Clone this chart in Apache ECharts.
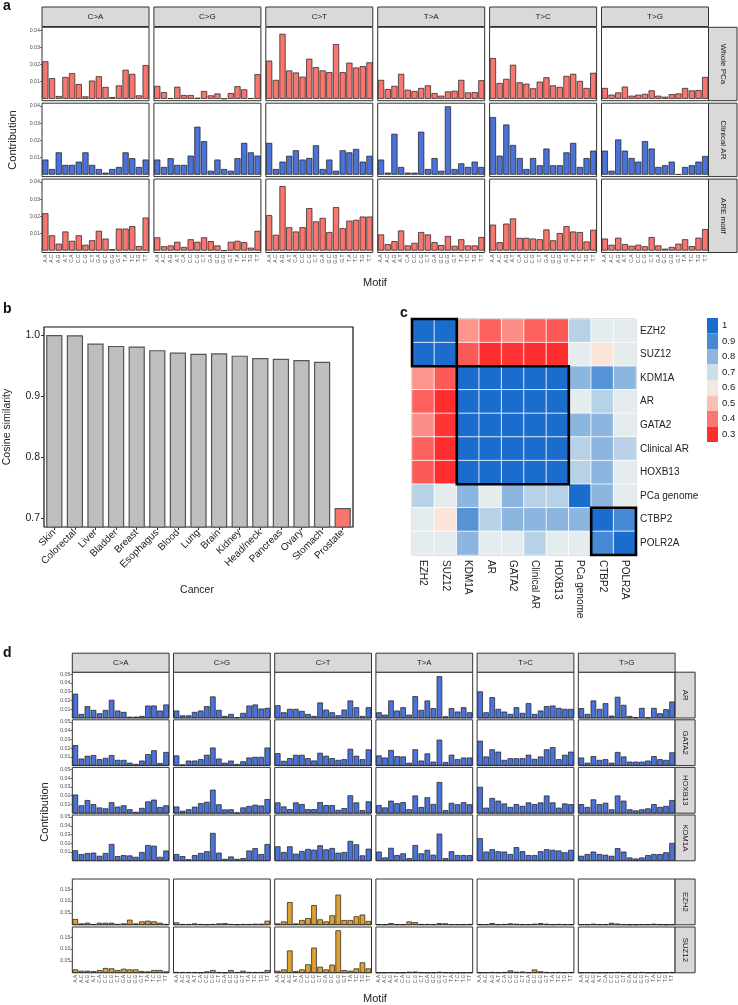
<!DOCTYPE html>
<html><head><meta charset="utf-8">
<script src="https://cdn.jsdelivr.net/npm/echarts@6/dist/echarts.min.js"></script>
<style>html,body{margin:0;padding:0;background:#fff}#c{width:738px;height:1005px}</style>
</head><body><div id="c"></div>
<script>
// ---------------- DATA ----------------
const MOTIFS = ['A.A','A.C','A.G','A.T','C.A','C.C','C.G','C.T','G.A','G.C','G.G','G.T','T.A','T.C','T.G','T.T'];
const SUBS = ['C>A','C>G','C>T','T>A','T>C','T>G'];

// panel a
const A_ROWS = ['Whole PCa','Clinical AR','ARE motif'];
const a_wholePCa = [
 [0.0218,0.012,0.0016,0.0127,0.0149,0.0086,0.0014,0.0106,0.0131,0.0069,0.001,0.0078,0.0169,0.0145,0.002,0.0196],
 [0.0075,0.0039,0.0004,0.007,0.0022,0.0022,0.0006,0.0045,0.002,0.0031,0.0001,0.0033,0.0073,0.0055,0.0004,0.0143],
 [0.0222,0.011,0.0378,0.0165,0.0153,0.0129,0.0233,0.0184,0.0165,0.0155,0.0318,0.0155,0.021,0.0182,0.019,0.0212],
 [0.011,0.0057,0.0075,0.0145,0.0053,0.0045,0.0063,0.0078,0.0033,0.0018,0.0043,0.0047,0.011,0.0037,0.0039,0.0108],
 [0.0237,0.0092,0.0116,0.0198,0.0096,0.0088,0.0061,0.01,0.0125,0.0078,0.0069,0.0133,0.0145,0.0104,0.0063,0.0151],
 [0.0063,0.0024,0.0037,0.0071,0.0018,0.0024,0.0029,0.0049,0.0018,0.0012,0.0027,0.0031,0.0063,0.0049,0.0051,0.0127]
];
const a_clinicalAR = [
 [0.0088,0.0033,0.013,0.0057,0.0057,0.0076,0.013,0.0057,0.0033,0.0012,0.0033,0.0045,0.013,0.0096,0.0045,0.0088],
 [0.0088,0.0045,0.0096,0.0057,0.0057,0.0111,0.0279,0.0195,0.0023,0.0088,0.0033,0.0023,0.0096,0.0185,0.013,0.0111],
 [0.0185,0.0033,0.0076,0.011,0.0142,0.0088,0.0097,0.0171,0.0033,0.0088,0.0023,0.0142,0.013,0.015,0.0076,0.011],
 [0.0088,0.0012,0.0238,0.0045,0.0012,0.0012,0.025,0.0033,0.0097,0.0023,0.0398,0.0033,0.0066,0.0045,0.0076,0.0045],
 [0.0335,0.0111,0.0292,0.0173,0.0097,0.0033,0.0097,0.0055,0.0152,0.0055,0.0055,0.013,0.0185,0.0045,0.0097,0.014],
 [0.014,0.0023,0.0205,0.014,0.0097,0.0076,0.0195,0.0152,0.0045,0.0055,0.0076,0.0003,0.0045,0.0055,0.0076,0.0109]
];
const a_AREmotif = [
 [0.0217,0.0089,0.004,0.0111,0.0057,0.0089,0.0034,0.006,0.0115,0.007,0.0008,0.0128,0.0128,0.0142,0.0026,0.0192],
 [0.0077,0.0025,0.003,0.0051,0.0021,0.0066,0.0051,0.0077,0.0055,0.003,0,0.0051,0.0057,0.0049,0.0017,0.0115],
 [0.0206,0.0092,0.0375,0.0136,0.0111,0.0136,0.0247,0.017,0.019,0.0108,0.0253,0.013,0.0174,0.0179,0.0198,0.0198],
 [0.0094,0.0038,0.0055,0.0117,0.003,0.0045,0.0108,0.0094,0.0049,0.0032,0.0085,0.0028,0.0066,0.003,0.003,0.0079],
 [0.0151,0.0049,0.0157,0.0187,0.0074,0.0074,0.007,0.0066,0.0123,0.006,0.0102,0.0142,0.0111,0.0108,0.0053,0.0121],
 [0.007,0.0034,0.0075,0.0038,0.0028,0.0034,0.0025,0.0079,0.003,0.0011,0.0021,0.004,0.0066,0.0026,0.0075,0.0125]
];
const A_YTICKS = [0.01,0.02,0.03,0.04];

// panel b
const B_CANCERS = ['Skin','Colorectal','Liver','Bladder','Breast','Esophagus','Blood','Lung','Brain','Kidney','Head/neck','Pancreas','Ovary','Stomach','Prostate'];
const B_SIM = [1.0,0.9995,0.986,0.982,0.981,0.975,0.971,0.969,0.970,0.966,0.962,0.961,0.959,0.956,0.716];
const B_YTICKS = [0.7,0.8,0.9,1.0];

// panel c
const C_LABELS = ['EZH2','SUZ12','KDM1A','AR','GATA2','Clinical AR','HOXB13','PCa genome','CTBP2','POLR2A'];
const C_MATRIX = [
 [1.00,1.00,0.44,0.37,0.43,0.37,0.36,0.74,0.65,0.65],
 [1.00,1.00,0.36,0.30,0.31,0.30,0.30,0.65,0.57,0.65],
 [0.44,0.36,1.00,1.00,1.00,1.00,1.00,0.80,0.88,0.80],
 [0.37,0.30,1.00,1.00,1.00,1.00,1.00,0.65,0.74,0.65],
 [0.43,0.31,1.00,1.00,1.00,1.00,1.00,0.80,0.80,0.65],
 [0.37,0.30,1.00,1.00,1.00,1.00,1.00,0.74,0.80,0.74],
 [0.36,0.30,1.00,1.00,1.00,1.00,1.00,0.74,0.80,0.65],
 [0.74,0.65,0.80,0.65,0.80,0.74,0.74,1.00,0.80,0.65],
 [0.65,0.57,0.88,0.74,0.80,0.80,0.80,0.80,1.00,0.90],
 [0.65,0.65,0.80,0.65,0.65,0.74,0.65,0.65,0.90,1.00]
];
const C_BLOCKS = [['EZH2','SUZ12'],['KDM1A','HOXB13'],['CTBP2','POLR2A']];
const C_LEGEND = [1,0.9,0.8,0.7,0.6,0.5,0.4,0.3];

// panel d
const D_ROWS = ['AR','GATA2','HOXB13','KDM1A','EZH2','SUZ12'];
const d_AR = [
 [0.0277,0.0046,0.0135,0.0092,0.0054,0.0092,0.0208,0.0085,0.0069,0.0015,0.0015,0.0023,0.0142,0.0142,0.0085,0.0154],
 [0.0085,0.003,0.003,0.0069,0.0085,0.0135,0.0246,0.0092,0.0023,0.0046,0.0008,0.0058,0.0142,0.0154,0.0108,0.0115],
 [0.0146,0.0065,0.0104,0.0104,0.0081,0.0046,0.0023,0.0177,0.0096,0.0065,0.0031,0.0096,0.02,0.0123,0.0023,0.0123],
 [0.0065,0.0038,0.02,0.0085,0.0123,0.0038,0.025,0.0092,0.02,0.0112,0.0477,0.0019,0.0112,0.0073,0.0123,0.0065],
 [0.0304,0.0065,0.0238,0.0104,0.0073,0.0046,0.0123,0.0058,0.0169,0.0046,0.0085,0.0135,0.0142,0.0115,0.0104,0.0104],
 [0.0112,0.0046,0.02,0.0104,0.0169,0.0027,0.0242,0.015,0.0023,0.0008,0.0115,0.0008,0.0115,0.0054,0.01,0.0188]
];
const d_GATA2 = [
 [0.0233,0.008,0.0112,0.012,0.0073,0.0088,0.012,0.0065,0.0065,0.0033,0.0018,0.0057,0.0131,0.0175,0.0029,0.0155],
 [0.0116,0.0014,0.0057,0.0057,0.0073,0.0124,0.0206,0.008,0.0033,0.0057,0.0018,0.0049,0.0092,0.01,0.01,0.0206],
 [0.0142,0.0054,0.0085,0.0123,0.0123,0.0085,0.0058,0.0146,0.0112,0.0085,0.0065,0.0073,0.0192,0.0112,0.0073,0.0185],
 [0.0116,0.0092,0.0178,0.0108,0.0104,0.0033,0.0186,0.0057,0.0139,0.0045,0.0296,0.0041,0.0124,0.0073,0.0092,0.0092],
 [0.0284,0.0104,0.0186,0.0159,0.0065,0.0084,0.0084,0.0084,0.0124,0.0076,0.0104,0.0186,0.021,0.0073,0.0124,0.0159],
 [0.0092,0.0033,0.0108,0.0065,0.0073,0.0033,0.0155,0.0104,0.0045,0.0045,0.0045,0.0057,0.0108,0.0073,0.0065,0.0151]
];
const d_HOXB13 = [
 [0.0213,0.009,0.015,0.0103,0.0065,0.0055,0.0125,0.0075,0.009,0.0045,0.0015,0.006,0.0135,0.0155,0.007,0.009],
 [0.0076,0.0027,0.0045,0.0074,0.0114,0.013,0.0269,0.0101,0.0043,0.0045,0.0006,0.0066,0.0082,0.0097,0.0088,0.0161],
 [0.0123,0.0077,0.0046,0.0123,0.0104,0.0046,0.0046,0.0127,0.0092,0.0092,0.0038,0.0058,0.0204,0.0123,0.0035,0.0135],
 [0.0092,0.0066,0.0143,0.0114,0.0126,0.0045,0.0202,0.007,0.0182,0.0106,0.0356,0.0035,0.0118,0.0102,0.0125,0.0102],
 [0.0301,0.0063,0.0174,0.0143,0.0111,0.0071,0.0103,0.0083,0.0123,0.0103,0.0123,0.0202,0.0123,0.0063,0.0111,0.0103],
 [0.0103,0.0071,0.0158,0.0103,0.0119,0.0044,0.0202,0.0143,0.0044,0.0032,0.0044,0.0055,0.0103,0.0071,0.0083,0.015]
];
const d_KDM1A = [
 [0.012,0.0077,0.0089,0.0093,0.0057,0.0089,0.0192,0.0053,0.0065,0.0061,0.0045,0.01,0.018,0.0172,0.0045,0.0117],
 [0.0077,0.0053,0.0018,0.0065,0.0089,0.0109,0.0318,0.0093,0.0022,0.0049,0.0022,0.003,0.0117,0.0144,0.0077,0.0192],
 [0.0165,0.01,0.0165,0.0081,0.0112,0.0135,0.0127,0.0177,0.0131,0.0146,0.0092,0.01,0.0227,0.0188,0.0062,0.0138],
 [0.0105,0.0038,0.0148,0.0065,0.0085,0.003,0.018,0.0085,0.0125,0.0069,0.031,0.003,0.0109,0.0065,0.0065,0.0065],
 [0.0259,0.0105,0.0132,0.0109,0.0105,0.0077,0.0156,0.0109,0.0065,0.0065,0.0109,0.0132,0.0125,0.0117,0.0097,0.0125],
 [0.0057,0.0077,0.0105,0.0077,0.0069,0.0057,0.0144,0.0105,0.0038,0.0026,0.0038,0.0065,0.0077,0.0077,0.0097,0.0204]
];
const d_EZH2 = [
 [0.0243,0.0057,0.0086,0.003,0.0086,0.0086,0.0086,0.003,0.0057,0.0214,0.0057,0.0143,0.0171,0.0143,0.0086,0.003],
 [0.01,0.003,0.003,0.0057,0.003,0.0015,0.003,0.0057,0.007,0.003,0.0015,0.003,0.003,0.0043,0.0043,0.0171],
 [0.0057,0.0143,0.0957,0.0057,0.02,0.0286,0.0829,0.0229,0.0143,0.04,0.127,0.02,0.02,0.0357,0.043,0.016],
 [0.002,0.0015,0.007,0.002,0.0015,0.014,0.011,0.003,0.003,0.002,0.007,0.006,0.002,0.002,0.002,0.003],
 [0.002,0.002,0.007,0.002,0.003,0.006,0.004,0.002,0.002,0.004,0.007,0.004,0.002,0.003,0.002,0.002],
 [0.002,0.002,0.004,0.002,0.002,0.008,0.005,0.002,0.001,0.001,0.002,0.002,0.004,0.002,0.001,0.002]
];
const d_SUZ12 = [
 [0.0143,0.0086,0.0086,0.0071,0.0114,0.02,0.0186,0.0114,0.0171,0.0143,0.0143,0.0071,0.0057,0.0114,0.0114,0.0057],
 [0.003,0.003,0.003,0.003,0.001,0.0057,0.0114,0.003,0.001,0.0114,0.003,0.0086,0.003,0.003,0.003,0.0114],
 [0.0086,0.0143,0.094,0.0071,0.0143,0.0357,0.106,0.0257,0.0143,0.0343,0.179,0.0114,0.0086,0.0186,0.044,0.0186],
 [0.001,0.001,0.002,0.001,0.001,0.004,0.005,0.002,0.001,0.001,0.004,0.002,0.001,0.001,0.001,0.002],
 [0.001,0.002,0.003,0.002,0.003,0.01,0.004,0.005,0.002,0.014,0.006,0.003,0.002,0.003,0.002,0.003],
 [0.001,0.002,0.001,0.001,0.001,0.002,0.003,0.001,0.001,0.001,0.003,0.001,0.001,0.001,0.002,0.003]
];
const D_YTICKS_BLUE = [0.01,0.02,0.03,0.04,0.05];
const D_YTICKS_ORANGE = [0.05,0.10,0.15];

// ---------------- STYLE / LAYOUT ----------------
const FONT = 'Liberation Sans, Arial, Helvetica, sans-serif';
const RED = '#f8766d', BLUE = '#4a72d9', ORANGE = '#dea12f';
const STRIP_FILL = '#d9d9d9', BORDER = '#333';

const grid = [], xAxis = [], yAxis = [], series = [], graphic = [], visualMap = [];

function txt(x, y, text, size, opts) {
  opts = opts || {};
  graphic.push({type:'text', x:x, y:y, rotation: opts.rot || 0, z: 10,
    style:{text:text, fontSize:size, fontFamily:FONT, fill: opts.color || '#111',
      fontWeight: opts.bold ? 'bold' : 'normal', align: opts.align || 'center', verticalAlign: opts.valign || 'middle'}});
}
function rect(x, y, w, h) {
  graphic.push({type:'rect', z: 9, shape:{x:x, y:y, width:w, height:h},
    style:{fill:STRIP_FILL, stroke:BORDER, lineWidth:1}});
}

function facet(spec) {
  const nR = spec.rows.length;
  for (let c = 0; c < 6; c++) {
    const left = spec.left0 + c * spec.colStep;
    rect(left, spec.stripTop, spec.colW, spec.stripH);
    txt(left + spec.colW / 2, spec.stripTop + spec.stripH / 2 + 0.5, SUBS[c], spec.stripFont, {color:'#1a1a1a'});
  }
  for (let r = 0; r < nR; r++) {
    const top = spec.rowTops[r];
    const rx = spec.left0 + 5 * spec.colStep + spec.colW;
    rect(rx, top, spec.rightW, spec.rowH);
    txt(rx + spec.rightW / 2, top + spec.rowH / 2, spec.rows[r], spec.stripFont, {rot:-Math.PI/2, color:'#1a1a1a'});
    for (let c = 0; c < 6; c++) {
      const gi = grid.length;
      const isBottom = spec.bottomRows.indexOf(r) >= 0;
      grid.push({left: spec.left0 + c * spec.colStep, top: top, width: spec.colW, height: spec.rowH,
        show:true, borderColor:BORDER, borderWidth:1, backgroundColor:'#fff'});
      xAxis.push({gridIndex:gi, type:'category', data:MOTIFS,
        axisLine:{show:false}, axisTick:{show:false},
        axisLabel:{show:isBottom, rotate:90, interval:0, fontSize:spec.xFont, margin:2, color:'#4d4d4d', fontFamily:FONT}});
      const ticks = spec.ticks[r];
      yAxis.push({gridIndex:gi, type:'value', min:spec.ymin, max:spec.ymax[r],
        splitLine:{show:false}, axisLine:{show:false},
        axisTick:{show:c===0, length:2, customValues:ticks, lineStyle:{color:'#333', width:0.7}},
        axisLabel:{show:c===0, customValues:ticks, fontSize:spec.yFont, margin:2, color:'#4d4d4d', fontFamily:FONT,
          formatter: v => spec.fmt(v)}});
      series.push({type:'bar', xAxisIndex:gi, yAxisIndex:gi, data: spec.data[r][c], silent:true,
        barCategoryGap:'8%', itemStyle:{color: spec.colors[r], borderColor:'#1a1a1a', borderWidth:0.7}});
    }
  }
}

// ---- Panel a ----
facet({
  rows: A_ROWS, data: [a_wholePCa, a_clinicalAR, a_AREmotif], colors: [RED, BLUE, RED],
  left0: 42, colStep: 111.9, colW: 107, rowTops: [27.3, 103.2, 179.1], rowH: 73.4,
  stripTop: 7, stripH: 19.5, rightW: 28.5, stripFont: 8,
  ymin: -0.0011, ymax: [0.0416, 0.0416, 0.0416], ticks: [A_YTICKS, A_YTICKS, A_YTICKS],
  fmt: v => v.toFixed(2), xFont: 5, yFont: 5.3, bottomRows: [2]
});
txt(3, 6, 'a', 14, {bold:true, align:'left'});
txt(13, 140, 'Contribution', 11, {rot:Math.PI/2, color:'#222'});
txt(375, 283, 'Motif', 11, {color:'#222'});

// ---- Panel b ----
{
  const gi = grid.length;
  grid.push({left:44, top:327, width:309, height:200, show:true, borderColor:'#111', borderWidth:1.2, backgroundColor:'#fff'});
  xAxis.push({gridIndex:gi, type:'category', data:B_CANCERS, axisLine:{show:false},
    axisTick:{show:true, alignWithLabel:true, length:3, lineStyle:{color:'#333'}},
    axisLabel:{interval:0, rotate:45, fontSize:10, margin:4, color:'#222', fontFamily:FONT}});
  yAxis.push({gridIndex:gi, type:'value', min:0.685, max:1.013, splitLine:{show:false}, axisLine:{show:false},
    axisTick:{show:true, length:3, customValues:B_YTICKS, lineStyle:{color:'#333'}},
    axisLabel:{customValues:B_YTICKS, fontSize:10.5, margin:4, color:'#222', fontFamily:FONT, formatter: v => v.toFixed(1)}});
  series.push({type:'bar', xAxisIndex:gi, yAxisIndex:gi, silent:true, barCategoryGap:'21%',
    data: B_SIM.map((v, i) => ({value:v, itemStyle:{color: B_CANCERS[i] === 'Prostate' ? RED : '#bebebe'}})),
    itemStyle:{borderColor:'#555', borderWidth:1.2}});
  txt(3, 309, 'b', 14, {bold:true, align:'left'});
  txt(7, 427, 'Cosine similarity', 10.5, {rot:Math.PI/2, color:'#222'});
  txt(197, 590, 'Cancer', 10.5, {color:'#222'});
}

// ---- Panel c ----
const HEAT_STOPS = [
  [0.30,'#ff2e2e'],[0.3875,'#fb6e68'],[0.475,'#fcb0a6'],[0.5625,'#fde4d8'],[0.65,'#e4ecee'],
  [0.7375,'#b9d3e7'],[0.825,'#7aaadc'],[0.9125,'#3f84d3'],[1.0,'#1b6dcd']];
function heatColor(v) {
  for (let i = 1; i < HEAT_STOPS.length; i++) {
    if (v <= HEAT_STOPS[i][0] + 1e-9) {
      const [v0, c0] = HEAT_STOPS[i-1], [v1, c1] = HEAT_STOPS[i];
      const t = (v - v0) / (v1 - v0);
      const p = s => [1,3,5].map(k => parseInt(s.substr(k,2),16));
      const a = p(c0), b = p(c1);
      return 'rgb(' + a.map((x, k) => Math.round(x + (b[k]-x)*t)).join(',') + ')';
    }
  }
  return HEAT_STOPS[HEAT_STOPS.length-1][1];
}
{
  const gi = grid.length;
  grid.push({left:412, top:319, width:224, height:236, show:true, borderColor:'#444', borderWidth:1});
  xAxis.push({gridIndex:gi, type:'category', data:C_LABELS, axisLine:{show:false}, axisTick:{show:false}, splitArea:{show:false},
    axisLabel:{interval:0, rotate:-90, fontSize:10, margin:5, color:'#222', fontFamily:FONT}});
  yAxis.push({gridIndex:gi, type:'category', data:C_LABELS, inverse:true, position:'right', axisLine:{show:false}, axisTick:{show:false},
    axisLabel:{interval:0, fontSize:10, margin:4, color:'#222', fontFamily:FONT}});
  const heatData = [];
  C_MATRIX.forEach((row, i) => row.forEach((v, j) => heatData.push([j, i, v])));
  const heatIdx = series.length;
  series.push({type:'heatmap', xAxisIndex:gi, yAxisIndex:gi, data:heatData, silent:true,
    itemStyle:{borderColor:'#fff', borderWidth:0.8}});
  series.push({type:'custom', xAxisIndex:gi, yAxisIndex:gi, silent:true, z:5,
    data: C_BLOCKS.map(b => [C_LABELS.indexOf(b[0]), C_LABELS.indexOf(b[1])]),
    encode:{x:0, y:1},
    renderItem: function (params, api) {
      const s = api.value(0), e = api.value(1);
      const p0 = api.coord([s, s]), p1 = api.coord([e, e]);
      const sz = api.size([1, 1]);
      const x = Math.min(p0[0], p1[0]) - sz[0]/2, y = Math.min(p0[1], p1[1]) - sz[1]/2;
      return {type:'rect', shape:{x:x, y:y, width:Math.abs(p1[0]-p0[0]) + sz[0], height:Math.abs(p1[1]-p0[1]) + sz[1]},
        style:{fill:'none', stroke:'#000', lineWidth:2.6}};
    }});
  const dummyIdx = series.length;
  series.push({type:'scatter', xAxisIndex:gi, yAxisIndex:gi, data:[], silent:true});
  visualMap.push({type:'continuous', show:false, seriesIndex:heatIdx, dimension:2, min:0.3, max:1,
    inRange:{color: HEAT_STOPS.map(s => s[1])}});
  visualMap.push({type:'piecewise', seriesIndex:dummyIdx, left:692, top:303, orient:'vertical', align:'left',
    itemWidth:11, itemHeight:15.5, itemGap:0, itemSymbol:'rect', selectedMode:false, textGap:4,
    textStyle:{fontSize:9.5, color:'#222', fontFamily:FONT},
    pieces: C_LEGEND.map(v => ({value:v, label:String(v), color:heatColor(v)}))});
  txt(400, 313, 'c', 14, {bold:true, align:'left'});
}

// ---- Panel d ----
facet({
  rows: D_ROWS, data: [d_AR, d_GATA2, d_HOXB13, d_KDM1A, d_EZH2, d_SUZ12],
  colors: [BLUE, BLUE, BLUE, BLUE, ORANGE, ORANGE],
  left0: 72.3, colStep: 101.2, colW: 96.8, rowTops: [672.2, 719.8, 767.4, 815.0, 879.0, 927.0], rowH: 45.8,
  stripTop: 653.2, stripH: 19, rightW: 20, stripFont: 7.8,
  ymin: 0, ymax: [0.0523, 0.0523, 0.0523, 0.0523, 0.193, 0.193],
  ticks: [D_YTICKS_BLUE, D_YTICKS_BLUE, D_YTICKS_BLUE, D_YTICKS_BLUE, D_YTICKS_ORANGE, D_YTICKS_ORANGE],
  fmt: v => v.toFixed(2), xFont: 4.8, yFont: 5.2, bottomRows: [5]
});
txt(3, 653, 'd', 14, {bold:true, align:'left'});
txt(45, 812, 'Contribution', 11, {rot:Math.PI/2, color:'#222'});
txt(375, 999, 'Motif', 11, {color:'#222'});

const chart = echarts.init(document.getElementById('c'), null, {renderer:'canvas'});
chart.setOption({
  animation:false, backgroundColor:'#fff', textStyle:{fontFamily:FONT},
  grid, xAxis, yAxis, series, graphic, visualMap
});
</script></body></html>
